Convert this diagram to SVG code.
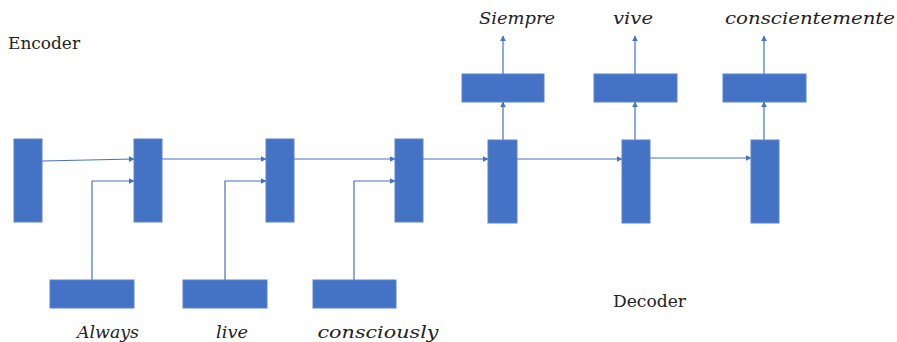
<svg xmlns="http://www.w3.org/2000/svg" width="897" height="342" viewBox="0 0 897 342">
<defs>
<marker id="ah" viewBox="0 0 10 10" refX="9" refY="5" markerWidth="6" markerHeight="6" orient="auto" markerUnits="userSpaceOnUse">
<path d="M0,0 L10,5 L0,10 z" fill="#4472C4"/>
</marker>
<style>
.box{fill:#4472C4;stroke:#5b84cc;stroke-width:1}
.ln{fill:none;stroke:#4472C4;stroke-width:1.2;marker-end:url(#ah)}
.w{font-family:"DejaVu Serif","Liberation Serif",serif;font-style:italic;font-size:16px;fill:#222;text-anchor:middle}
.lbl{font-family:"DejaVu Serif","Liberation Serif",serif;font-size:16px;fill:#222}
</style>
</defs>
<rect width="897" height="342" fill="#fff"/>
<g id="connectors">
<path class="ln" d="M42,161 L134,159"/>
<path class="ln" d="M92,280 L92,181 L134,181"/>
<path class="ln" d="M162,159 L266,159"/>
<path class="ln" d="M225,280 L225,181 L266,181"/>
<path class="ln" d="M294,159 L395,159"/>
<path class="ln" d="M354,280 L354,181 L395,181"/>
<path class="ln" d="M423,159 L488,159"/>
<path class="ln" d="M517,159 L622,159"/>
<path class="ln" d="M649,158 L751,158"/>
<path class="ln" d="M503,140 L503,102"/>
<path class="ln" d="M635,140 L635,102"/>
<path class="ln" d="M764,140 L764,102"/>
<path class="ln" d="M503,74 L503,36"/>
<path class="ln" d="M635,74 L635,36"/>
<path class="ln" d="M764,74 L764,36"/>
</g>
<g id="enc1"><rect class="box" x="14" y="139" width="28" height="83"/></g>
<g id="enc2"><rect class="box" x="134" y="139" width="28" height="83"/></g>
<g id="enc3"><rect class="box" x="266" y="139" width="28" height="83"/></g>
<g id="enc4"><rect class="box" x="395" y="139" width="28" height="83"/></g>
<g id="dec1"><rect class="box" x="488" y="140" width="29" height="83"/></g>
<g id="dec2"><rect class="box" x="622" y="140" width="28" height="83"/></g>
<g id="dec3"><rect class="box" x="751" y="140" width="28" height="83"/></g>
<g id="out1"><rect class="box" x="462" y="74" width="82" height="28"/></g>
<g id="out2"><rect class="box" x="594" y="74" width="83" height="28"/></g>
<g id="out3"><rect class="box" x="723" y="74" width="83" height="28"/></g>
<g id="in1"><rect class="box" x="50" y="280" width="84" height="28"/><text class="w" x="108" y="338" textLength="62" lengthAdjust="spacingAndGlyphs">Always</text></g>
<g id="in2"><rect class="box" x="183" y="280" width="84" height="28"/><text class="w" x="232" y="338" textLength="32" lengthAdjust="spacingAndGlyphs">live</text></g>
<g id="in3"><rect class="box" x="313" y="280" width="83" height="28"/><text class="w" x="378" y="338" textLength="121" lengthAdjust="spacingAndGlyphs">consciously</text></g>
<g id="words">
<text class="w" x="517" y="24" textLength="76" lengthAdjust="spacingAndGlyphs">Siempre</text>
<text class="w" x="633" y="24" textLength="40" lengthAdjust="spacingAndGlyphs">vive</text>
<text class="w" x="810" y="24" textLength="170" lengthAdjust="spacingAndGlyphs">conscientemente</text>
</g>
<text class="lbl" x="8" y="49" textLength="72" lengthAdjust="spacingAndGlyphs">Encoder</text>
<text class="lbl" x="613" y="307" textLength="73" lengthAdjust="spacingAndGlyphs">Decoder</text>
</svg>
